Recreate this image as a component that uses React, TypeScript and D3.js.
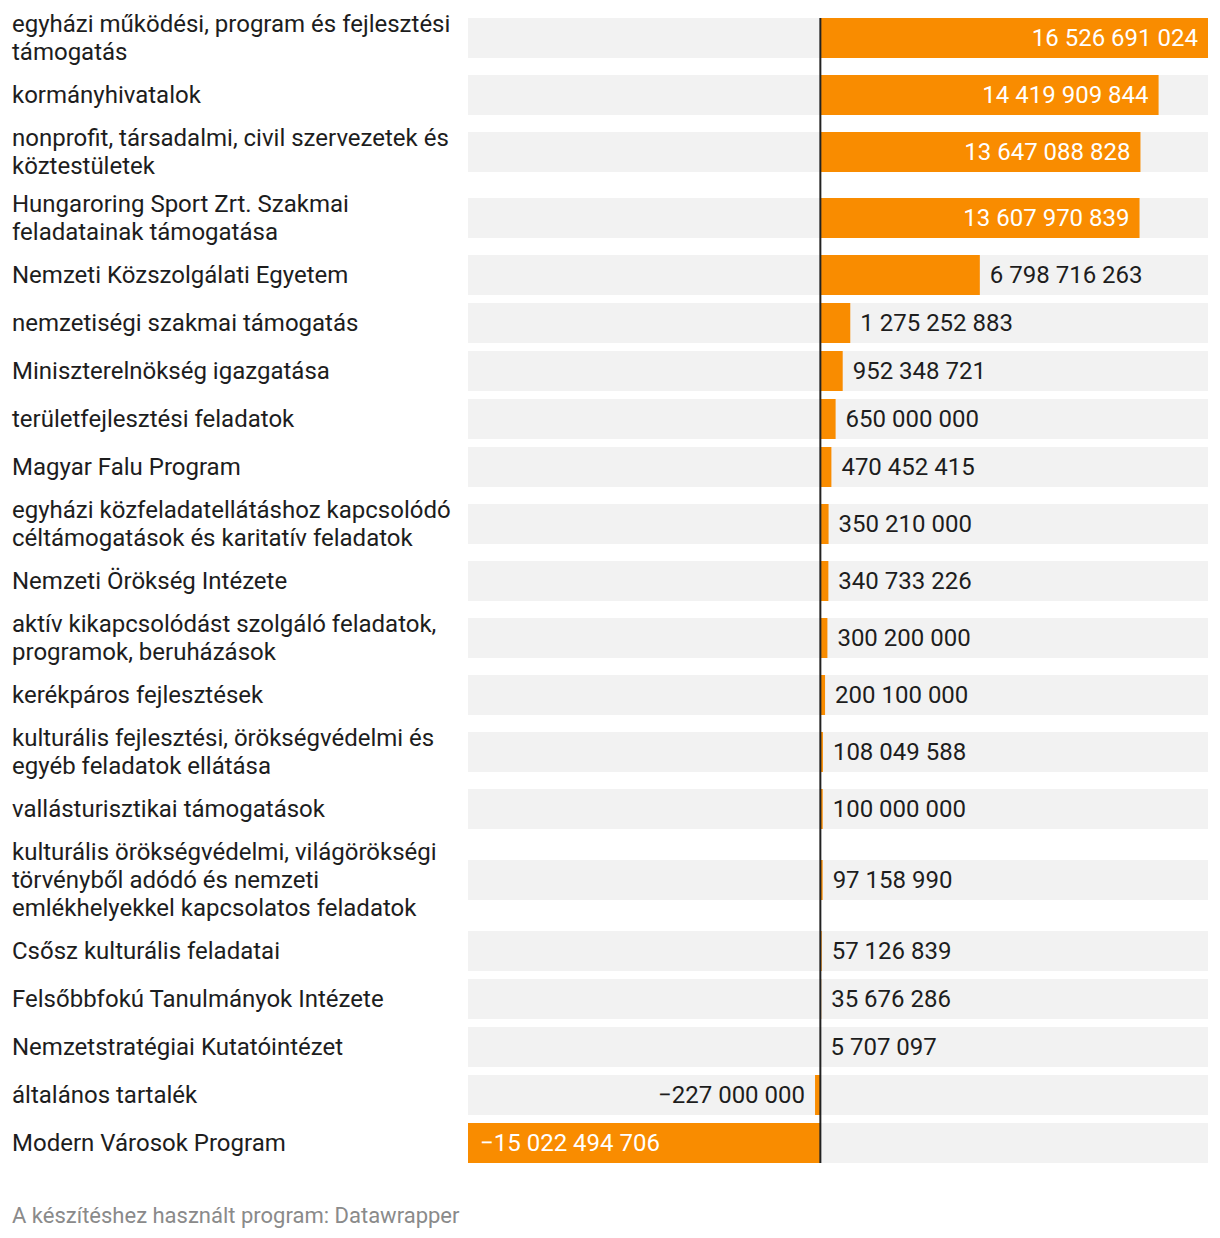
import React, { useMemo } from "react";
import * as d3 from "d3";

const categories: string[][] = [
  ["egyházi működési, program és fejlesztési", "támogatás"],
  ["kormányhivatalok"],
  ["nonprofit, társadalmi, civil szervezetek és", "köztestületek"],
  ["Hungaroring Sport Zrt. Szakmai", "feladatainak támogatása"],
  ["Nemzeti Közszolgálati Egyetem"],
  ["nemzetiségi szakmai támogatás"],
  ["Miniszterelnökség igazgatása"],
  ["területfejlesztési feladatok"],
  ["Magyar Falu Program"],
  ["egyházi közfeladatellátáshoz kapcsolódó", "céltámogatások és karitatív feladatok"],
  ["Nemzeti Örökség Intézete"],
  ["aktív kikapcsolódást szolgáló feladatok,", "programok, beruházások"],
  ["kerékpáros fejlesztések"],
  ["kulturális fejlesztési, örökségvédelmi és", "egyéb feladatok ellátása"],
  ["vallásturisztikai támogatások"],
  ["kulturális örökségvédelmi, világörökségi", "törvényből adódó és nemzeti", "emlékhelyekkel kapcsolatos feladatok"],
  ["Csősz kulturális feladatai"],
  ["Felsőbbfokú Tanulmányok Intézete"],
  ["Nemzetstratégiai Kutatóintézet"],
  ["általános tartalék"],
  ["Modern Városok Program"],
];

const values: number[] = [
  16526691024,
  14419909844,
  13647088828,
  13607970839,
  6798716263,
  1275252883,
  952348721,
  650000000,
  470452415,
  350210000,
  340733226,
  300200000,
  200100000,
  108049588,
  100000000,
  97158990,
  57126839,
  35676286,
  5707097,
  -227000000,
  -15022494706,
];

const footerText = "A készítéshez használt program: Datawrapper";

const W = 1220;
const H = 1238;
const FONT = "Roboto, 'Noto Sans', sans-serif";
const ORANGE = "#f98c00";
const BAND = "#f2f2f2";
const TEXT = "#1d1d1d";

const locale = d3.formatLocale({
  decimal: ",",
  thousands: " ",
  grouping: [3],
  currency: ["", ""],
  minus: "\u2212",
});
const fmt = locale.format(",d");

let ctx: CanvasRenderingContext2D | null = null;
function measure(text: string, size: number): number {
  if (!ctx) {
    const c = document.createElement("canvas");
    ctx = c.getContext("2d");
  }
  if (!ctx) return text.length * size * 0.55;
  ctx.font = `${size}px Roboto`;
  return ctx.measureText(text).width;
}

export default function App() {
  const labelSize = 24;
  const valueSize = 24;
  const lineH = 28;
  const barH = 40;
  const gap = 8;
  const top0 = 9;

  const rows = useMemo(() => {
    let y = top0;
    return categories.map((lines, i) => {
      const h = Math.max(barH, lines.length * lineH + 2);
      const r = { lines, value: values[i], top: y, h, center: y + h / 2 };
      y += h + gap;
      return r;
    });
  }, []);

  const x = d3
    .scaleLinear()
    .domain([d3.min(values) as number, d3.max(values) as number])
    .range([468, 1208]);
  const x0 = x(0);

  const firstBarTop = rows[0].center - barH / 2;
  const lastBarBottom = rows[rows.length - 1].center + barH / 2;

  return (
    <div style={{ position: "absolute", left: 0, top: 0, width: W, height: H, background: "#fff" }}>
      <svg width={W} height={H} style={{ display: "block" }} fontFamily={FONT}>
        {rows.map((r, i) => {
          const by = Math.round(r.center - barH / 2);
          const cy = by + barH / 2;
          const v = r.value;
          const xa = Math.min(x(v), x0);
          const xb = Math.max(x(v), x0);
          const label = fmt(v);
          const tw = measure(label, valueSize);
          const bw = xb - xa;
          const inside = tw + 24 < bw;
          let lx: number;
          let anchor: "start" | "end";
          let fill: string;
          if (v >= 0) {
            if (inside) {
              lx = xb - 10;
              anchor = "end";
              fill = "#fff";
            } else {
              lx = xb + 10;
              anchor = "start";
              fill = TEXT;
            }
          } else {
            if (inside) {
              lx = xa + 12;
              anchor = "start";
              fill = "#fff";
            } else {
              lx = xa - 10;
              anchor = "end";
              fill = TEXT;
            }
          }
          return (
            <g key={i}>
              <rect x={x.range()[0]} y={by} width={x.range()[1] - x.range()[0]} height={barH} fill={BAND} />
              <rect x={xa} y={by} width={bw} height={barH} fill={ORANGE} />
              <text
                x={lx}
                y={cy}
                dy="0.35em"
                textAnchor={anchor}
                fontSize={valueSize}
                fill={fill}
              >
                {label}
              </text>
              {r.lines.map((ln, k) => (
                <text
                  key={k}
                  x={12}
                  y={cy + (k - (r.lines.length - 1) / 2) * lineH}
                  dy="0.35em"
                  fontSize={labelSize}
                  fill={TEXT}
                >
                  {ln}
                </text>
              ))}
            </g>
          );
        })}
        <line x1={x0} x2={x0} y1={firstBarTop} y2={lastBarBottom} stroke="#222" strokeWidth={2} />
        <text x={12} y={1215} dy="0.35em" fontSize={22} fill="#8a8a8a">
          {footerText}
        </text>
      </svg>
    </div>
  );
}
